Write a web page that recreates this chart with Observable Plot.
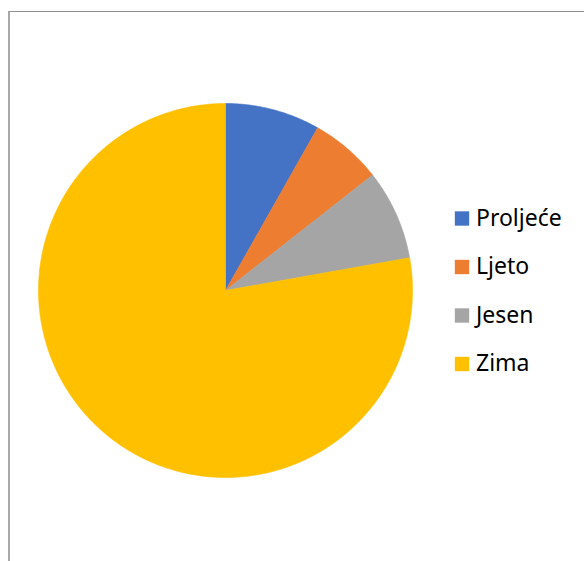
<!DOCTYPE html>
<html>
<head>
<meta charset="utf-8">
<script src="https://cdn.jsdelivr.net/npm/d3@7"></script>
<script src="https://cdn.jsdelivr.net/npm/@observablehq/plot@0.6"></script>
<style>
  html, body { margin: 0; padding: 0; background: #fff; overflow: hidden; width: 584px; height: 561px; }
  #frame { position: absolute; left: 8px; top: 11px; width: 600px; height: 600px;
           border-top: 1px solid #8f8f8f; border-left: 2px solid #a8a8a8; }
  #chart { position: absolute; left: 0; top: 0; }
</style>
</head>
<body>
<div id="frame"></div>
<div id="chart"></div>
<script>
// Data (share of total, %)
const categories = ["Proljeće", "Ljeto", "Jesen", "Zima"];
const values = [8.2, 6.2, 7.8, 77.8];
const colors = ["#4472C4", "#ED7D31", "#A5A5A5", "#FFC000"];

const W = 584, H = 561;
const cx = 225, cy = 290, R = 187;

// Build slice polygons from the data with d3.pie (clockwise from 12 o'clock)
const arcs = d3.pie().sort(null).value(d => d)(values);
const slicePts = [];
arcs.forEach((a, i) => {
  const cat = categories[i];
  slicePts.push({cat, x: cx, y: cy});
  const n = Math.max(2, Math.ceil((a.endAngle - a.startAngle) / (Math.PI / 360)));
  for (let k = 0; k <= n; k++) {
    const t = a.startAngle + (a.endAngle - a.startAngle) * k / n;
    slicePts.push({cat, x: cx + R * Math.sin(t), y: cy - R * Math.cos(t)});
  }
  slicePts.push({cat, x: cx, y: cy});
});

// Legend rows
const legend = categories.map((c, i) => ({cat: c, x: 461.5, y: 218 + i * 48.5}));

const chart = Plot.plot({
  width: W, height: H,
  margin: 0,
  x: {domain: [0, W], range: [0, W], axis: null},
  y: {domain: [0, H], range: [0, H], axis: null},
  color: {domain: categories, range: colors},
  style: {background: "transparent", overflow: "visible"},
  marks: [
    Plot.line(slicePts, {x: "x", y: "y", z: "cat", fill: "cat", stroke: "cat", strokeWidth: 0.6, curve: "linear"}),
    Plot.dot(legend, {x: "x", y: "y", fill: "cat", symbol: "square", r: 8.1}),
    Plot.text(legend, {x: d => d.x + 14, y: "y", text: "cat", textAnchor: "start", lineAnchor: "middle",
      fontSize: 23, fill: "#000", fontFamily: "'Noto Sans', sans-serif"})
  ]
});
document.getElementById("chart").appendChild(chart);
</script>
</body>
</html>
